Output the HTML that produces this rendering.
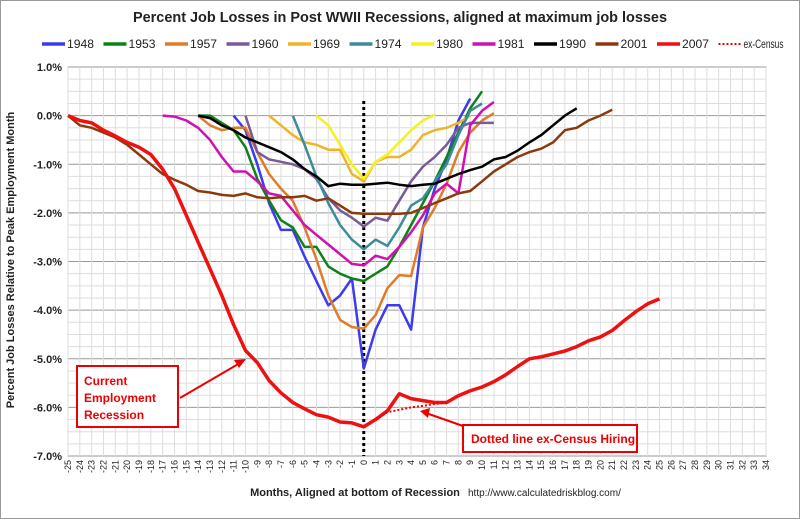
<!DOCTYPE html>
<html><head><meta charset="utf-8"><style>
body{margin:0;background:#fff;}
svg{display:block;font-family:"Liberation Sans",sans-serif;}
</style></head><body>
<svg id="chart" width="800" height="519" viewBox="0 0 800 519" xmlns="http://www.w3.org/2000/svg">
<rect x="0.5" y="0.5" width="799" height="518" fill="#fff" stroke="#999"/>
<text x="400" y="22" text-anchor="middle" font-size="15" font-weight="bold" fill="#222" textLength="534" lengthAdjust="spacingAndGlyphs">Percent Job Losses in Post WWII Recessions, aligned at maximum job losses</text>
<g id="legend"></g>
<g id="grid"></g>
<g id="axes"></g>
<g id="series"></g>
<text transform="translate(14,260) rotate(-90)" text-anchor="middle" font-size="11" font-weight="bold" fill="#222">Percent Job Losses Relative to Peak Employment Month</text>
<text x="355" y="496" text-anchor="middle" font-size="11" font-weight="bold" fill="#222">Months, Aligned at bottom of Recession</text>
<text x="468" y="496" font-size="10" fill="#222">http://www.calculatedriskblog.com/</text>
<g>
<rect x="77" y="366" width="101" height="61" fill="#fff" stroke="#e00" stroke-width="2"/>
<text x="84" y="385" font-size="12" font-weight="bold" fill="#e00">Current</text>
<text x="84" y="402" font-size="12" font-weight="bold" fill="#e00">Employment</text>
<text x="84" y="419" font-size="12" font-weight="bold" fill="#e00">Recession</text>
<line x1="180" y1="398" x2="240" y2="363" stroke="#e00" stroke-width="2"/>
<polygon points="246,359 234,360 239,368" fill="#e00"/>
</g>
<g>
<rect x="463" y="425" width="174" height="27" fill="#fff" stroke="#e00" stroke-width="2"/>
<text x="471" y="443" font-size="12" font-weight="bold" fill="#e00">Dotted line ex-Census Hiring</text>
<line x1="463" y1="426" x2="426" y2="413" stroke="#e00" stroke-width="2"/>
<polygon points="420,411 430,408 428,418" fill="#e00"/>
</g>
</svg>
<script>
const months=[];for(let m=-25;m<=34;m++)months.push(m);
const yTicks=[1,0,-1,-2,-3,-4,-5,-6,-7];
const seriesNames=["1948","1953","1957","1960","1969","1974","1980","1981","1990","2001","2007"];
const seriesColors=["#3b3bef","#10801a","#e07b2a","#7a5a9a","#f0b428","#3c8c9a","#f5f020","#d010b0","#000000","#8b3a10","#ee1111"];
const start1948=-11, v1948=[0,-0.3,-1.0,-1.8,-2.35,-2.35,-2.9,-3.4,-3.9,-3.7,-3.35,-5.2,-4.4,-3.9,-3.9,-4.4,-2.3,-1.5,-0.9,-0.1,0.35];
const start1953=-14, v1953=[0,0,-0.15,-0.3,-0.65,-1.3,-1.75,-2.15,-2.3,-2.7,-2.7,-3.1,-3.25,-3.35,-3.4,-3.25,-3.1,-2.7,-2.25,-1.8,-1.35,-0.85,-0.35,0.15,0.5];
const start1957=-14, v1957=[0,-0.2,-0.3,-0.25,-0.25,-0.75,-1.2,-1.5,-1.75,-2.3,-2.95,-3.7,-4.2,-4.35,-4.38,-4.1,-3.55,-3.28,-3.3,-2.3,-1.9,-1.4,-0.75,-0.35,-0.1,0.05];
const start1960=-10, v1960=[0,-0.75,-0.9,-0.95,-1.0,-1.1,-1.3,-1.7,-1.95,-2.1,-2.28,-2.1,-2.16,-1.75,-1.35,-1.05,-0.85,-0.6,-0.25,-0.15,-0.15,-0.15];
const start1969=-8, v1969=[0,-0.2,-0.4,-0.55,-0.6,-0.7,-0.7,-1.2,-1.35,-0.95,-0.85,-0.85,-0.7,-0.4,-0.3,-0.25,-0.15,0];
const start1974=-6, v1974=[0,-0.6,-1.25,-1.8,-2.25,-2.55,-2.75,-2.55,-2.68,-2.3,-1.85,-1.7,-1.35,-1.0,-0.4,0.1,0.25];
const start1980=-4, v1980=[0,-0.2,-0.6,-1.0,-1.3,-0.95,-0.8,-0.55,-0.3,-0.1,0.02];
const start1981=-17, v1981=[0,-0.02,-0.1,-0.25,-0.5,-0.85,-1.15,-1.15,-1.35,-1.6,-1.65,-1.95,-2.25,-2.45,-2.65,-2.85,-3.05,-3.08,-2.88,-2.95,-2.7,-2.4,-2.05,-1.6,-1.4,-1.6,-0.2,0.1,0.28];
const start1990=-14, v1990=[0,-0.05,-0.2,-0.3,-0.45,-0.55,-0.65,-0.75,-0.9,-1.1,-1.25,-1.45,-1.4,-1.42,-1.42,-1.4,-1.38,-1.42,-1.45,-1.42,-1.4,-1.3,-1.2,-1.12,-1.05,-0.9,-0.85,-0.72,-0.55,-0.4,-0.2,0.0,0.15];
const start2001=-25, v2001=[0,-0.2,-0.25,-0.35,-0.45,-0.6,-0.8,-1.0,-1.2,-1.32,-1.42,-1.55,-1.58,-1.63,-1.65,-1.6,-1.68,-1.7,-1.68,-1.68,-1.65,-1.75,-1.7,-1.85,-2.0,-2.02,-2.02,-2.02,-2.02,-2.0,-1.9,-1.8,-1.7,-1.6,-1.55,-1.35,-1.15,-1.0,-0.85,-0.75,-0.68,-0.55,-0.3,-0.25,-0.1,0.0,0.12];
const start2007=-25, v2007=[0,-0.1,-0.15,-0.3,-0.42,-0.55,-0.65,-0.8,-1.1,-1.5,-2.05,-2.6,-3.15,-3.7,-4.3,-4.83,-5.08,-5.45,-5.7,-5.9,-6.03,-6.15,-6.2,-6.3,-6.32,-6.4,-6.25,-6.07,-5.72,-5.82,-5.86,-5.9,-5.9,-5.76,-5.66,-5.58,-5.47,-5.33,-5.16,-5.0,-4.96,-4.9,-4.84,-4.75,-4.63,-4.55,-4.42,-4.22,-4.03,-3.87,-3.77];
const startCensus=1, vCensus=[-6.25,-6.1,-6.05,-6.0,-5.97,-5.93,-5.9];
const starts=[start1948,start1953,start1957,start1960,start1969,start1974,start1980,start1981,start1990,start2001,start2007];
const values=[v1948,v1953,v1957,v1960,v1969,v1974,v1980,v1981,v1990,v2001,v2007];

const NS="http://www.w3.org/2000/svg";
const X0=68,X1=766,Y0=67,Y1=456,MMIN=-25,MMAX=34,VMAX=1,VMIN=-7;
function xs(m){return X0+(m-MMIN)*(X1-X0)/(MMAX-MMIN);}
function ys(v){return Y0+(VMAX-v)*(Y1-Y0)/(VMAX-VMIN);}
function mk(tag,attrs,parent){const e=document.createElementNS(NS,tag);for(const k in attrs)e.setAttribute(k,attrs[k]);parent.appendChild(e);return e;}
const grid=document.getElementById('grid'),axes=document.getElementById('axes'),ser=document.getElementById('series'),leg=document.getElementById('legend');
mk('rect',{x:X0,y:Y0,width:X1-X0,height:Y1-Y0,fill:'#fff',stroke:'#888'},grid);
for(let v=VMIN;v<=VMAX+0.001;v+=0.25){const l=mk('line',{x1:X0,x2:X1,y1:ys(v),y2:ys(v),stroke:Math.abs(v-Math.round(v))<0.01?'#999':'#ddd','stroke-width':1},grid);

}
months.forEach(m=>{const l=mk('line',{x1:xs(m),x2:xs(m),y1:Y0,y2:Y1,stroke:'#ddd'},grid);


const t=mk('text',{transform:`translate(${xs(m)+3},${Y1+4}) rotate(-90)`,'text-anchor':'end','font-size':9,fill:'#222'},axes);t.textContent=m;

});
yTicks.forEach(v=>{const t=mk('text',{x:X0-6,y:ys(v)+4,'text-anchor':'end','font-size':11,'font-weight':'bold',fill:'#222'},axes);t.textContent=v.toFixed(1)+'%';

});
const zl=mk('line',{x1:xs(0),x2:xs(0),y1:ys(0.3),y2:Y1,stroke:'#000','stroke-width':3,'stroke-dasharray':'3,3'},axes);


function pts(st,arr){return arr.map((v,i)=>xs(st+i).toFixed(1)+','+ys(v).toFixed(1)).join(' ');}
values.forEach((arr,i)=>{const p=mk('polyline',{points:pts(starts[i],arr),fill:'none',stroke:seriesColors[i],'stroke-width':i==10?3.5:2.5,'stroke-linejoin':'round'},ser);

});
const cp=mk('polyline',{points:pts(startCensus,vCensus),fill:'none',stroke:'#e00','stroke-width':2,'stroke-dasharray':'2,2'},ser);


let lx=42;
seriesNames.concat(['ex-Census']).forEach((n,i)=>{const g=mk('g',{},leg);


const isC=i==11;
mk('line',{x1:lx,x2:lx+23,y1:44,y2:44,stroke:isC?'#e00':seriesColors[i],'stroke-width':isC?2:3.5,'stroke-dasharray':isC?'2,2':'none'},g);
const t=mk('text',{x:lx+25,y:48,'font-size':12,fill:'#222',textLength:isC?40:27,lengthAdjust:'spacingAndGlyphs'},g);t.textContent=n;
lx+=61.5;});
</script>
</body></html>
